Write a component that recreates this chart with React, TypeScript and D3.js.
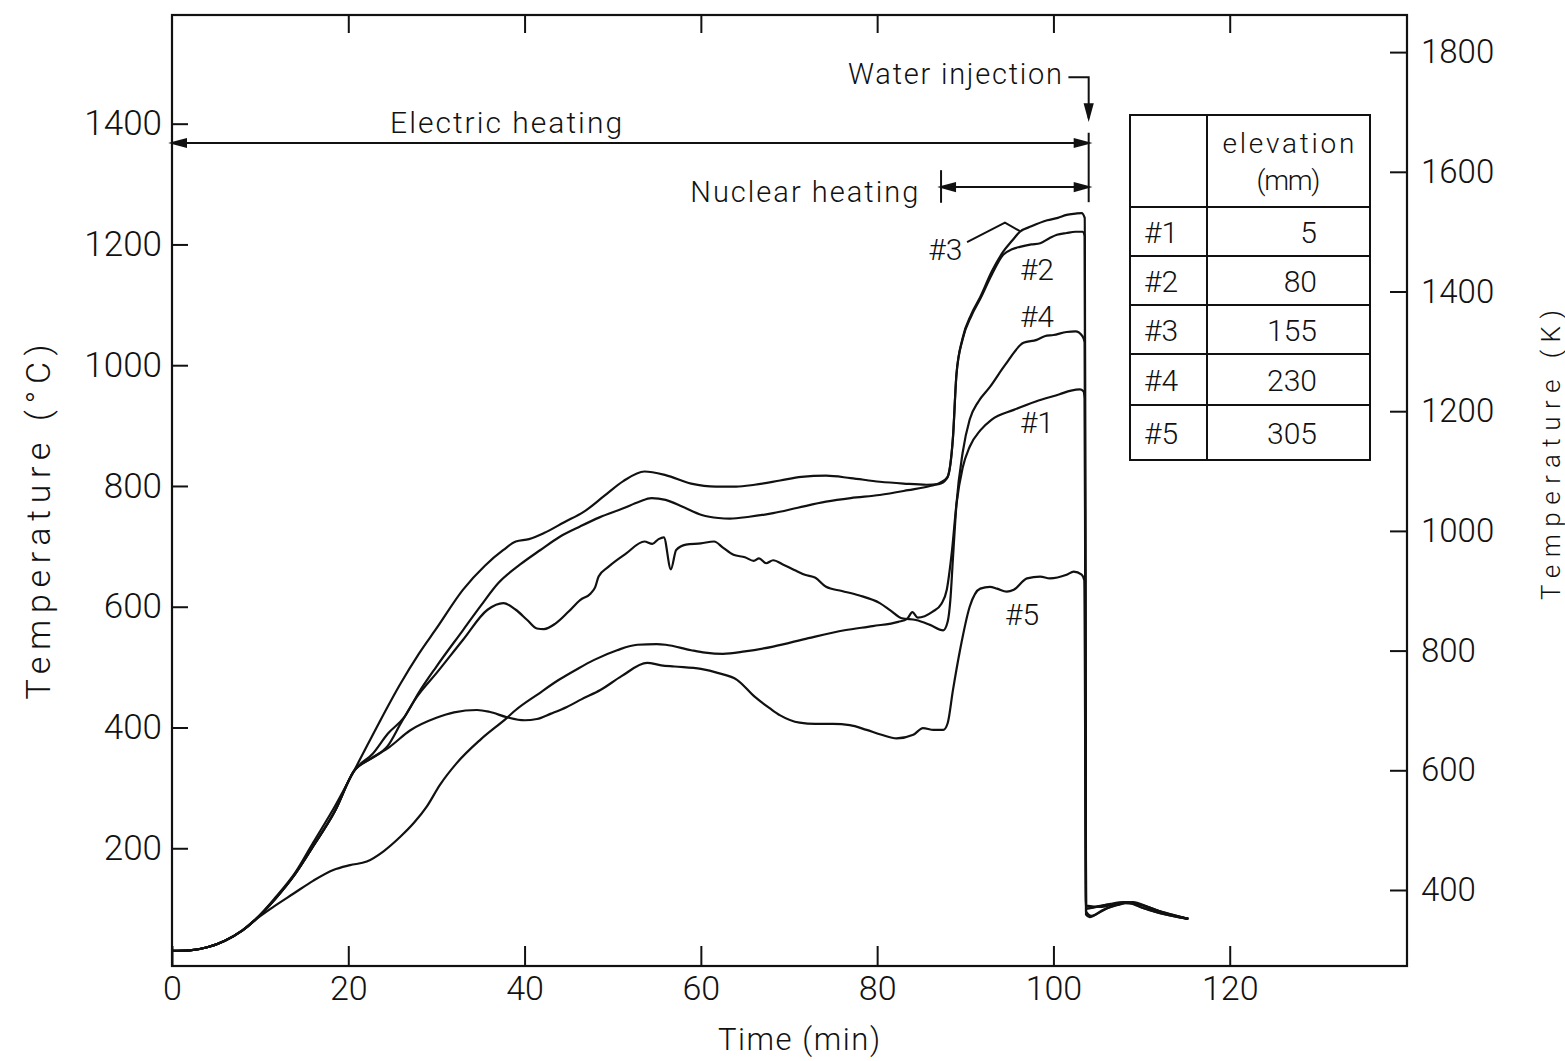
import React, { useEffect, useRef } from 'react';
import * as d3 from 'd3';

// axis ticks
const timeTicks = [0, 20, 40, 60, 80, 100, 120];
const celsiusTicks = [200, 400, 600, 800, 1000, 1200, 1400];
const kelvinTicks = [400, 600, 800, 1000, 1200, 1400, 1600, 1800];

// table
const tcNames = ['#1', '#2', '#3', '#4', '#5'];
const tcElevations = ['5', '80', '155', '230', '305'];

// thermocouple traces, [time (min), temperature (C)]
const tc1: [number, number][] = [
  [0, 30], [2, 31], [4, 36], [6, 47], [8, 64], [9.4, 81], [11.5, 103], [13.8, 125], [16, 146],
  [18.3, 164], [20.2, 172], [22.1, 178], [24, 195], [25.9, 219], [27.5, 243], [28.9, 269],
  [30.4, 305], [32.3, 341], [35, 380], [38, 416], [39, 429], [41.5, 455], [43.9, 479], [46, 497],
  [47.9, 512], [50.5, 528], [52.8, 537], [55, 538], [56, 537], [58.9, 528], [60.5, 524],
  [62.5, 522], [65, 526], [68.2, 534], [72.2, 548], [76.3, 561], [79.5, 568], [82.4, 575],
  [83.4, 580], [84, 591], [84.6, 582], [86.3, 592], [87.3, 605], [87.9, 628], [88.5, 694],
  [89, 770], [89.7, 830], [90.5, 865], [91.7, 892], [93, 910], [95.5, 926], [98, 940],
  [100.7, 952], [102, 958], [103, 960], [103.4, 957], [103.55, 945], [103.7, 95], [104.3, 88],
  [106, 100], [108, 109], [110, 106], [112, 96], [115.3, 83],
];

const tc2: [number, number][] = [
  [0, 30], [2, 31], [4, 36], [6, 47], [8, 64], [9.4, 81], [11.7, 116], [14, 158], [16, 203],
  [18.5, 262], [20.6, 327], [22.8, 357], [24.5, 390], [26.4, 418], [28, 458], [30, 501],
  [33, 561], [35, 601], [37, 639], [39.5, 670], [41.8, 694], [44, 716], [46.3, 733], [48.5, 748],
  [51.2, 763], [53, 774], [54.4, 780], [56, 777], [58, 765], [60.1, 752], [62, 747], [63.3, 746],
  [65.5, 749], [68.2, 755], [71, 764], [74.2, 774], [77, 780], [80.3, 785], [83.5, 793], [86, 800],
  [87.1, 805], [88, 815], [88.6, 880], [89, 985], [89.7, 1043], [90.7, 1082], [91.7, 1110],
  [93, 1150], [94.3, 1183], [95.3, 1192], [96.2, 1196], [97.5, 1200], [98.5, 1202], [99.5, 1210],
  [100.4, 1216], [101.5, 1219], [102.5, 1221], [103.3, 1221], [103.55, 1214], [103.7, 105],
  [105.5, 103], [107, 108], [108.5, 111], [110, 102], [112, 93], [115.3, 83],
];

const tc3: [number, number][] = [
  [0, 30], [2, 31], [4, 36], [6, 47], [8, 64], [9.4, 81], [11.7, 118], [14, 160], [16, 209],
  [18.5, 270], [21, 338], [23.5, 408], [25.9, 472], [28, 522], [30, 564], [33, 628], [35.5, 668],
  [37.6, 694], [39, 708], [40.5, 712], [42.2, 722], [44.5, 740], [46.7, 757], [49, 783],
  [51.2, 808], [53.6, 824], [56, 818], [58.9, 804], [61.7, 799], [64, 799], [66.1, 802], [69, 809],
  [71.4, 815], [74.2, 817], [77, 813], [80.3, 807], [83, 804], [85.6, 802], [87, 803], [87.9, 812],
  [88.6, 880], [89, 985], [89.7, 1045], [90.7, 1085], [91.7, 1113], [93, 1155], [94.3, 1188],
  [95.3, 1206], [96.2, 1221], [97.5, 1230], [99.3, 1240], [100.5, 1244], [101.5, 1249],
  [102.5, 1251], [103.2, 1252], [103.55, 1244], [103.7, 100], [105, 104], [107, 108], [109, 110],
  [111, 100], [113, 92], [115.3, 83],
];

const tc4: [number, number][] = [
  [0, 30], [2, 31], [4, 36], [6, 47], [8, 64], [9.4, 81], [11.7, 116], [14, 158], [16, 203],
  [18.5, 262], [20.6, 327], [22.5, 348], [24.5, 370], [26, 408], [27.8, 451], [30, 490], [33, 545],
  [35.8, 595], [37.6, 606], [39, 595], [40.3, 578], [41.4, 564], [42.2, 563], [43.5, 572], [45, 592],
  [46.3, 611], [47.5, 622], [48, 632], [48.4, 650], [49.5, 666], [51.5, 688], [53.6, 708],
  [54.5, 704], [55.2, 712], [55.8, 715], [56.6, 662], [57.2, 694], [58.3, 703], [60, 705],
  [61.5, 708], [62.5, 698], [63.7, 686], [65, 682], [66, 676], [66.6, 680], [67.4, 672],
  [68.2, 677], [69.3, 670], [70.6, 661], [71.8, 653], [73, 648], [74.2, 633], [76, 626],
  [77.9, 619], [80.3, 606], [81.5, 594], [82.8, 581], [84.4, 578], [86, 570], [87.5, 561],
  [88, 575], [88.3, 610], [88.6, 680], [89, 770], [89.7, 855], [90.5, 910], [91.5, 940],
  [92.8, 964], [94.5, 1000], [96.6, 1037], [98.1, 1042], [99, 1048], [100, 1050], [101.5, 1055],
  [102.5, 1056], [103.3, 1048], [103.55, 1038], [103.7, 90], [104.1, 86], [105.5, 97],
  [107.3, 106], [109, 111], [110.7, 103], [112.3, 94], [115.3, 83],
];

const tc5: [number, number][] = [
  [0, 30], [2, 31], [4, 36], [6, 47], [8, 64], [9.4, 81], [11.7, 116], [14, 158], [16, 203],
  [18.5, 262], [20.6, 327], [22.8, 350], [24.7, 368], [27, 395], [30, 416], [32, 425], [34.6, 429],
  [36, 426], [38, 417], [40, 412], [41.4, 414], [43, 423], [44.8, 434], [46.5, 447], [48.6, 462],
  [51, 485], [53.9, 507], [55.5, 503], [57, 501], [60, 497], [62, 490], [64.1, 479], [66.1, 451],
  [67.8, 432], [69, 420], [71.2, 408], [73, 406], [75, 406], [76.9, 404], [78.8, 396], [80.5, 388],
  [82.2, 382], [84.1, 388], [85.2, 399], [86.4, 396], [87.5, 396], [88, 407], [88.6, 462],
  [89.4, 528], [90.5, 600], [91.7, 630], [92.8, 633], [93.6, 630], [94.7, 625], [95.5, 628],
  [97, 647], [98.5, 650], [99.6, 647], [101.5, 653], [102.3, 658], [103.2, 653], [103.5, 644],
  [103.7, 100], [105.3, 104], [106.5, 108], [108, 111], [110, 102], [111.5, 95], [115.3, 83],
];

const traces = [tc1, tc2, tc3, tc4, tc5];

const FONT = "Roboto, 'Liberation Sans', sans-serif";
const INK = '#111';

export default function App() {
  const ref = useRef<SVGSVGElement>(null);

  useEffect(() => {
    const svg = d3.select(ref.current);
    svg.selectAll('*').remove();

    const left = 172, right = 1407, top = 15, bottom = 966;

    const x = d3.scaleLinear().domain([0, 140]).range([left, right - 1]);
    const y = d3.scaleLinear().domain([5, 1580]).range([bottom, top]);
    const yK = d3.scaleLinear().domain([273, 1862]).range([bottom, top]);
    const plain = d3.format('d');

    // frame
    svg.append('rect')
      .attr('x', left).attr('y', top)
      .attr('width', right - left).attr('height', bottom - top)
      .attr('fill', 'none').attr('stroke', INK).attr('stroke-width', 2.2);

    const styleAxis = (g: any, size: number) => {
      g.select('.domain').remove();
      g.attr('font-family', FONT).attr('font-size', size).attr('font-weight', 300);
      g.selectAll('line').attr('stroke', INK).attr('stroke-width', 2);
      g.selectAll('text').attr('fill', INK);
    };

    const xBottom = svg.append('g')
      .attr('transform', `translate(0,${bottom})`)
      .call(d3.axisBottom(x).tickValues(timeTicks).tickSize(-20).tickPadding(10).tickFormat(plain));
    styleAxis(xBottom, 34);

    const xTop = svg.append('g')
      .attr('transform', `translate(0,${top})`)
      .call(d3.axisTop(x).tickValues(timeTicks.slice(1)).tickSize(-18).tickFormat(() => ''));
    styleAxis(xTop, 34);

    const yLeft = svg.append('g')
      .attr('transform', `translate(${left},0)`)
      .call(d3.axisLeft(y).tickValues(celsiusTicks).tickSize(-16).tickPadding(10).tickFormat(plain));
    styleAxis(yLeft, 35);

    const yRight = svg.append('g')
      .attr('transform', `translate(${right},0)`)
      .call(d3.axisRight(yK).tickValues(kelvinTicks).tickSize(-17).tickPadding(14).tickFormat(plain));
    styleAxis(yRight, 33);

    // curves
    const line = d3.line<[number, number]>()
      .x(d => x(d[0]))
      .y(d => y(d[1]))
      .curve(d3.curveMonotoneX);

    svg.append('g')
      .selectAll('path')
      .data(traces)
      .enter()
      .append('path')
      .attr('d', d => line(d))
      .attr('fill', 'none')
      .attr('stroke', INK)
      .attr('stroke-width', 2.2)
      .attr('stroke-linejoin', 'round');

    // arrows
    const head = (px: number, py: number, ang: number) => {
      const L = 14, w = 3.8;
      const bx = px - L * Math.cos(ang), by = py - L * Math.sin(ang);
      const nx = -Math.sin(ang) * w, ny = Math.cos(ang) * w;
      return `M${px},${py}L${bx + nx},${by + ny}L${bx - nx},${by - ny}Z`;
    };
    const ann = svg.append('g').attr('stroke', INK).attr('stroke-width', 2).attr('fill', INK);

    const tInject = 104;
    const tNuclear = 87.25;
    const yElec = y(1368);
    const yNuc = y(1295);

    ann.append('line')
      .attr('x1', x(0)).attr('x2', x(tInject)).attr('y1', yElec).attr('y2', yElec);
    ann.append('path').attr('d', head(x(0), yElec, Math.PI));
    ann.append('path').attr('d', head(x(tInject), yElec, 0));
    ann.append('line')
      .attr('x1', x(tInject)).attr('x2', x(tInject)).attr('y1', y(1385)).attr('y2', y(1270));

    ann.append('line')
      .attr('x1', x(tNuclear)).attr('x2', x(tInject)).attr('y1', yNuc).attr('y2', yNuc);
    ann.append('path').attr('d', head(x(tNuclear), yNuc, Math.PI));
    ann.append('path').attr('d', head(x(tInject), yNuc, 0));
    ann.append('line')
      .attr('x1', x(tNuclear)).attr('x2', x(tNuclear)).attr('y1', y(1323)).attr('y2', y(1269));

    ann.append('path')
      .attr('fill', 'none')
      .attr('d', `M${x(101.7)},${y(1477)}H${x(tInject)}V${y(1409)}`);
    ann.append('path').attr('d', head(x(tInject), y(1409), Math.PI / 2));

    // leader for #3
    ann.append('path')
      .attr('fill', 'none')
      .attr('d', d3.line()([[x(90.2), y(1204)], [x(94.5), y(1236)], [x(96.2), y(1222)]]) as string);

    const txt = svg.append('g').attr('font-family', FONT).attr('font-weight', 300).attr('fill', INK);

    const label = (s: string, px: number, py: number, size: number, len?: number, anchor = 'start') => {
      const t = txt.append('text')
        .attr('x', px).attr('y', py)
        .attr('font-size', size)
        .attr('text-anchor', anchor)
        .text(s);
      if (len) t.attr('textLength', len).attr('lengthAdjust', 'spacing');
      return t;
    };

    label('Electric heating', x(37.9), y(1385), 30, 232, 'middle');
    label('Water injection', x(76.7), y(1466), 29, 214);
    label('Nuclear heating', x(58.8), y(1270), 29, 228);

    // curve tags
    label('#3', x(85.8), y(1174), 30);
    label('#2', x(96.2), y(1141), 30);
    label('#4', x(96.2), y(1063), 30);
    label('#1', x(96.2), y(888), 30);
    label('#5', x(94.5), y(570), 30);

    // axis titles
    label('Temperature   (°C)', 0, 0, 34, 355, 'middle')
      .attr('transform', 'translate(50,522) rotate(-90)');
    label('Temperature (K)', 0, 0, 26, 290, 'middle')
      .attr('transform', 'translate(1560,455) rotate(-90)');
    label('Time   (min)', 799, 1050, 31, 162, 'middle');

    // elevation table
    const tLeft = 1130, tMid = 1207, tRight = 1370;
    const rowEdges = [115, 207, 256, 305, 354, 405, 460];
    const tbl = svg.append('g').attr('stroke', INK).attr('stroke-width', 2).attr('fill', 'none');
    tbl.append('rect')
      .attr('x', tLeft).attr('y', rowEdges[0])
      .attr('width', tRight - tLeft).attr('height', rowEdges[6] - rowEdges[0]);
    tbl.append('line')
      .attr('x1', tMid).attr('x2', tMid).attr('y1', rowEdges[0]).attr('y2', rowEdges[6]);
    tbl.selectAll('line.row')
      .data(rowEdges.slice(1, 6))
      .enter()
      .append('line')
      .attr('class', 'row')
      .attr('x1', tLeft).attr('x2', tRight)
      .attr('y1', d => d).attr('y2', d => d);

    label('elevation', (tMid + tRight) / 2, 153, 28, 132, 'middle');
    label('(mm)', (tMid + tRight) / 2, 190, 28, 64, 'middle');

    tcNames.forEach((n, i) => {
      const cy = (rowEdges[i + 1] + rowEdges[i + 2]) / 2;
      label(n, 1144, cy + 11, 30);
      label(tcElevations[i], 1317, cy + 11, 30, undefined, 'end');
    });
  }, []);

  return (
    <div style={{ position: 'absolute', left: 0, top: 0 }}>
      <svg ref={ref} width={1565} height={1061} style={{ display: 'block', background: '#fff' }} />
    </div>
  );
}
